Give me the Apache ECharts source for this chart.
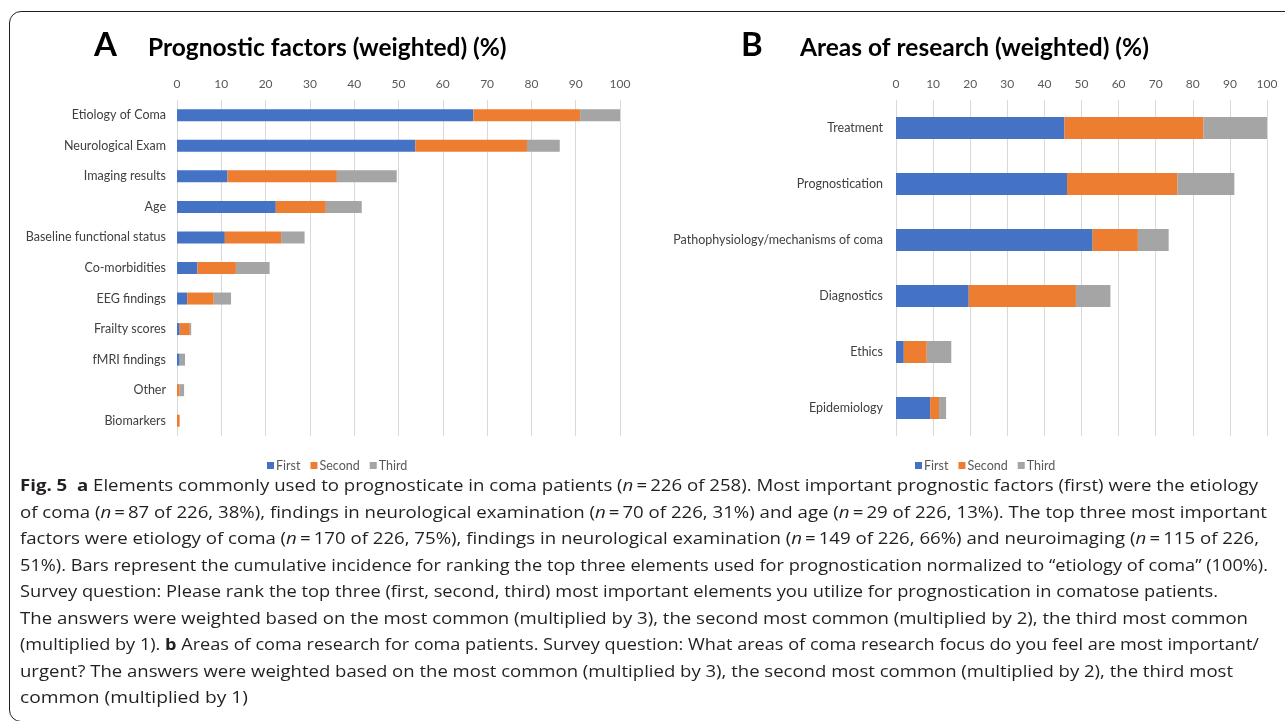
<!DOCTYPE html>
<html>
<head>
<meta charset="utf-8">
<script src="https://cdn.jsdelivr.net/npm/echarts@6/dist/echarts.min.js"></script>
<style>
    html, body {
        margin: 0;
        padding: 0;
        background: #fff;
    }
    .outerbox {
        position: relative;
        width: 1285px;
        height: 721px;
        overflow: hidden;
    }
    #chart {
        position: absolute;
        left: 0;
        top: 0;
        width: 1285px;
        height: 721px;
    }
    .frame {
        position: absolute;
        left: 9px;
        top: 11px;
        width: 1400px;
        height: 709px;
        border: 1.5px solid #231f20;
        border-radius: 12px;
    }
    .cap-line {
        position: absolute;
        left: 20px;
        height: 26px;
        line-height: 26px;
        font-family: "Open Sans", "Noto Sans", sans-serif;
        font-size: 16px;
        color: #231f20;
        white-space: nowrap;
        transform-origin: 0 50%;
    }
    .cap-line b {
        font-weight: 700;
    }
</style>
</head>
<body>
<div class="outerbox">
    <div class="frame"></div>
    <div id="chart"></div>
    <div id="caption"></div>
</div>
<script>
// panel A - prognostic factors (weighted, %)
const factorCats = ['Etiology of Coma', 'Neurological Exam', 'Imaging results', 'Age',
    'Baseline functional status', 'Co-morbidities', 'EEG findings', 'Frailty scores',
    'fMRI findings', 'Other', 'Biomarkers'];
const factorFirst = [66.9, 53.8, 11.4, 22.3, 10.8, 4.6, 2.3, 0.6, 0.6, 0, 0];
const factorSecond = [24.1, 25.2, 24.7, 11.3, 12.7, 8.7, 6.0, 2.3, 0, 0.6, 0.6];
const factorThird = [9.0, 7.4, 13.5, 8.1, 5.3, 7.6, 3.9, 0.3, 1.2, 1.0, 0];

// panel B - areas of research (weighted, %)
const areaCats = ['Treatment', 'Prognostication', 'Pathophysiology/mechanisms of coma',
    'Diagnostics', 'Ethics', 'Epidemiology'];
const areaFirst = [45.4, 46.1, 53.0, 19.6, 2.1, 9.2];
const areaSecond = [37.5, 29.8, 12.2, 28.9, 6.2, 2.4];
const areaThird = [17.1, 15.3, 8.3, 9.3, 6.6, 1.9];

const rankNames = ['First', 'Second', 'Third'];
const axisMin = 0;
const axisMax = 100;
const axisStep = 10;

// caption lines, html so the bold / italic bits stay real text
const captionLines = [
    '<b>Fig. 5</b>&nbsp; <b>a</b> Elements commonly used to prognosticate in coma patients (<i>n</i>&thinsp;=&thinsp;226 of 258). Most important prognostic factors (first) were the etiology',
    'of coma (<i>n</i>&thinsp;=&thinsp;87 of 226, 38%), findings in neurological examination (<i>n</i>&thinsp;=&thinsp;70 of 226, 31%) and age (<i>n</i>&thinsp;=&thinsp;29 of 226, 13%). The top three most important',
    'factors were etiology of coma (<i>n</i>&thinsp;=&thinsp;170 of 226, 75%), findings in neurological examination (<i>n</i>&thinsp;=&thinsp;149 of 226, 66%) and neuroimaging (<i>n</i>&thinsp;=&thinsp;115 of 226,',
    '51%). Bars represent the cumulative incidence for ranking the top three elements used for prognostication normalized to \u201cetiology of coma\u201d (100%).',
    'Survey question: Please rank the top three (first, second, third) most important elements you utilize for prognostication in comatose patients.',
    'The answers were weighted based on the most common (multiplied by 3), the second most common (multiplied by 2), the third most common',
    '(multiplied by 1). <b>b</b> Areas of coma research for coma patients. Survey question: What areas of coma research focus do you feel are most important/',
    'urgent? The answers were weighted based on the most common (multiplied by 3), the second most common (multiplied by 2), the third most',
    'common (multiplied by 1)'
];
// right edge of each caption line in the figure
const captionEnds = [1258, 1267, 1259, 1268, 1218, 1248, 1259, 1233, 248];

const colors = ['#4472C4', '#ED7D31', '#A5A5A5'];
const font = 'Lato, "Liberation Sans", sans-serif';

function xAxisFor(idx) {
    return {
        gridIndex: idx,
        type: 'value',
        position: 'top',
        min: axisMin,
        max: axisMax,
        interval: axisStep,
        axisLine: { show: false },
        axisTick: { show: false },
        axisLabel: { color: '#595959', fontSize: 12, fontFamily: font, margin: 10 },
        splitLine: { lineStyle: { color: '#D9D9D9', width: 1 } }
    };
}

function yAxisFor(idx, cats, margin) {
    return {
        gridIndex: idx,
        type: 'category',
        inverse: true,
        data: cats,
        axisLine: { show: false },
        axisTick: { show: false },
        axisLabel: { color: '#404040', fontSize: 12.5, fontFamily: font, margin: margin }
    };
}

function barSeries(idx, stack, width, lists) {
    return lists.map((vals, i) => ({
        name: rankNames[i],
        type: 'bar',
        stack: stack,
        xAxisIndex: idx,
        yAxisIndex: idx,
        barWidth: width,
        itemStyle: { color: colors[i] },
        data: vals
    }));
}

function legendFor(left) {
    return {
        left: left,
        top: 454,
        data: rankNames,
        icon: 'rect',
        itemWidth: 7,
        itemHeight: 7,
        itemGap: 10,
        textStyle: { color: '#595959', fontSize: 12.5, fontFamily: font, padding: [0, 0, 0, -3] }
    };
}

// panel letters and headings
function heading(text, left, top, size) {
    return {
        text: text,
        left: left,
        top: top,
        padding: 0,
        textStyle: { fontSize: size, fontWeight: 'bold', color: '#000', fontFamily: font }
    };
}

let myChart = echarts.init(document.getElementById('chart'));
myChart.setOption({
    animation: false,
    color: colors,
    title: [
        heading('A', 94, 29, 33),
        heading('Prognostic factors (weighted) (%)', 148, 36, 24.5),
        heading('B', 741, 29, 33),
        heading('Areas of research (weighted) (%)', 800, 36, 24.5)
    ],
    grid: [
        { left: 177, top: 100, width: 443, height: 336 },
        { left: 896, top: 100, width: 371, height: 336 }
    ],
    xAxis: [xAxisFor(0), xAxisFor(1)],
    yAxis: [yAxisFor(0, factorCats, 11), yAxisFor(1, areaCats, 13)],
    legend: [legendFor(262), legendFor(910)],
    series: [
        ...barSeries(0, 'factors', 12, [factorFirst, factorSecond, factorThird]),
        ...barSeries(1, 'areas', 22, [areaFirst, areaSecond, areaThird])
    ]
});

// caption: one line per row, stretched to the width it has in the figure
const cap = document.getElementById('caption');
captionLines.forEach((html, i) => {
    let el = document.createElement('div');
    el.className = 'cap-line';
    el.style.top = (472 + i * 26.5) + 'px';
    el.innerHTML = html;
    cap.appendChild(el);
});
function fitCaption() {
    Array.from(cap.children).forEach((el, i) => {
        el.style.transform = 'none';
        let w = el.getBoundingClientRect().width;
        el.style.transform = 'scaleX(' + ((captionEnds[i] - 20) / w) + ')';
    });
}
fitCaption();
if (document.fonts && document.fonts.ready) {
    document.fonts.ready.then(fitCaption);
}
</script>
</body>
</html>
